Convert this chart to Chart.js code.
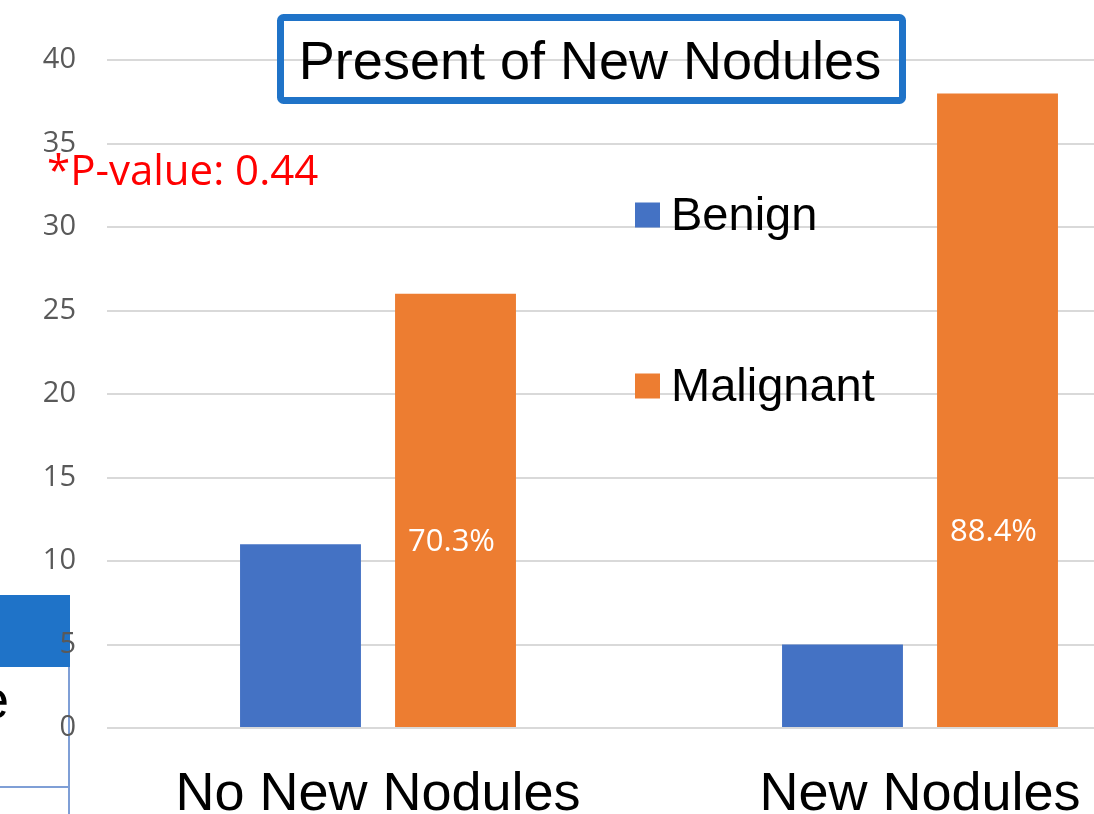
<!DOCTYPE html>
<html>
<head>
<meta charset="utf-8">
<script src="https://cdn.jsdelivr.net/npm/chart.js@4"></script>
<style>
  body { margin: 0; background: #fff; overflow: hidden; }
  #wrap { position: relative; width: 1094px; height: 814px; overflow: hidden; }
  #chart { position: absolute; left: 0; top: 0; z-index: 2; }
  /* fragment of a table that sits behind the chart on the slide */
  .tbl-head { position: absolute; left: 0; top: 595px; width: 70px; height: 72px; background: #1f73c8; z-index: 1; }
  .tbl-vline { position: absolute; left: 68px; top: 667px; width: 2px; height: 150px; background: #7f9fd6; z-index: 1; }
  .tbl-hline { position: absolute; left: 0; top: 786px; width: 69px; height: 2px; background: #7f9fd6; z-index: 1; }
  .tbl-text { position: absolute; left: -21px; top: 668px; font: 54px "Liberation Sans", Arial, sans-serif; color: #000; z-index: 1; }
</style>
</head>
<body>
<div id="wrap">
  <div class="tbl-head"></div>
  <div class="tbl-vline"></div>
  <div class="tbl-hline"></div>
  <div class="tbl-text">e</div>
  <canvas id="chart" width="1191" height="814"></canvas>
</div>
<script>
// Present of new nodules: benign vs malignant counts

const categories = ["No New Nodules", "New Nodules"];
const benign = [11, 5];
const malignant = [26, 38];
const yTicks = [0, 5, 10, 15, 20, 25, 30, 35, 40];
const titleText = "Present of New Nodules";
const pValueText = "*P-value: 0.44";

// share of malignant cases in each group, e.g. 70.3%
const malignantPct = malignant.map(
  (m, i) => ((m / (m + benign[i])) * 100).toFixed(1) + "%"
);

const overlayPlugin = {
  id: "overlay",
  afterDraw(chart, args, opts) {
    const ctx = chart.ctx;
    const y = chart.scales.y;
    ctx.save();

    // boxed title
    ctx.strokeStyle = "#1f73c8";
    ctx.lineWidth = 7;
    ctx.beginPath();
    ctx.roundRect(280.5, 17.5, 622, 83, 3);
    ctx.stroke();
    ctx.fillStyle = "#000";
    ctx.font = '54px "Liberation Sans", Arial, sans-serif';
    ctx.textAlign = "center";
    ctx.textBaseline = "alphabetic";
    ctx.fillText(titleText, 590, 79);

    // p-value note
    ctx.fillStyle = "#ff0000";
    ctx.font = '42px "Open Sans", sans-serif';
    ctx.textAlign = "left";
    ctx.fillText(pValueText, 47, 185);

    // legend inside the plot
    const legendRows = [215, 386];
    ctx.font = '47px "Liberation Sans", Arial, sans-serif';
    chart.data.datasets.forEach((ds, i) => {
      ctx.fillStyle = ds.backgroundColor;
      ctx.fillRect(635, legendRows[i] - 12.5, 25, 25);
      ctx.fillStyle = "#000";
      ctx.fillText(ds.label, 671, legendRows[i] + 15);
    });

    // percentage labels on the malignant bars
    const meta = chart.getDatasetMeta(1);
    ctx.fillStyle = "#fff";
    ctx.font = '31px "Open Sans", sans-serif';
    ctx.textAlign = "center";
    ctx.textBaseline = "middle";
    meta.data.forEach((bar, i) => {
      ctx.fillText(malignantPct[i], bar.x - 4, y.getPixelForValue(opts.labelAt[i]));
    });

    ctx.restore();
  },
};

new Chart(document.getElementById("chart").getContext("2d"), {
  type: "bar",
  data: {
    labels: categories,
    datasets: [
      {
        label: "Benign",
        data: benign,
        backgroundColor: "#4472c4",
        categoryPercentage: 0.572,
        barPercentage: 0.78,
      },
      {
        label: "Malignant",
        data: malignant,
        backgroundColor: "#ed7d31",
        categoryPercentage: 0.572,
        barPercentage: 0.78,
      },
    ],
  },
  options: {
    responsive: false,
    animation: false,
    layout: { padding: { top: 60, left: 0, right: 0, bottom: 0 } },
    scales: {
      x: {
        grid: { display: false },
        border: { display: false },
        ticks: {
          color: "#000",
          padding: 27,
          font: { family: '"Liberation Sans", Arial, sans-serif', size: 54 },
        },
        afterFit(scale) {
          scale.height = 86;
        },
      },
      y: {
        min: 0,
        max: 40,
        grid: { color: "#d9d9d9", lineWidth: 2, drawTicks: false },
        border: { display: false },
        afterBuildTicks(scale) {
          scale.ticks = yTicks.map((v) => ({ value: v }));
        },
        ticks: {
          color: "#595959",
          padding: 31,
          font: { family: '"Open Sans", sans-serif', size: 29 },
        },
        afterFit(scale) {
          scale.width = 107;
        },
      },
    },
    plugins: {
      legend: { display: false },
      tooltip: { enabled: false },
      overlay: { labelAt: [11.1, 11.7] },
    },
  },
  plugins: [overlayPlugin],
});
</script>
</body>
</html>
